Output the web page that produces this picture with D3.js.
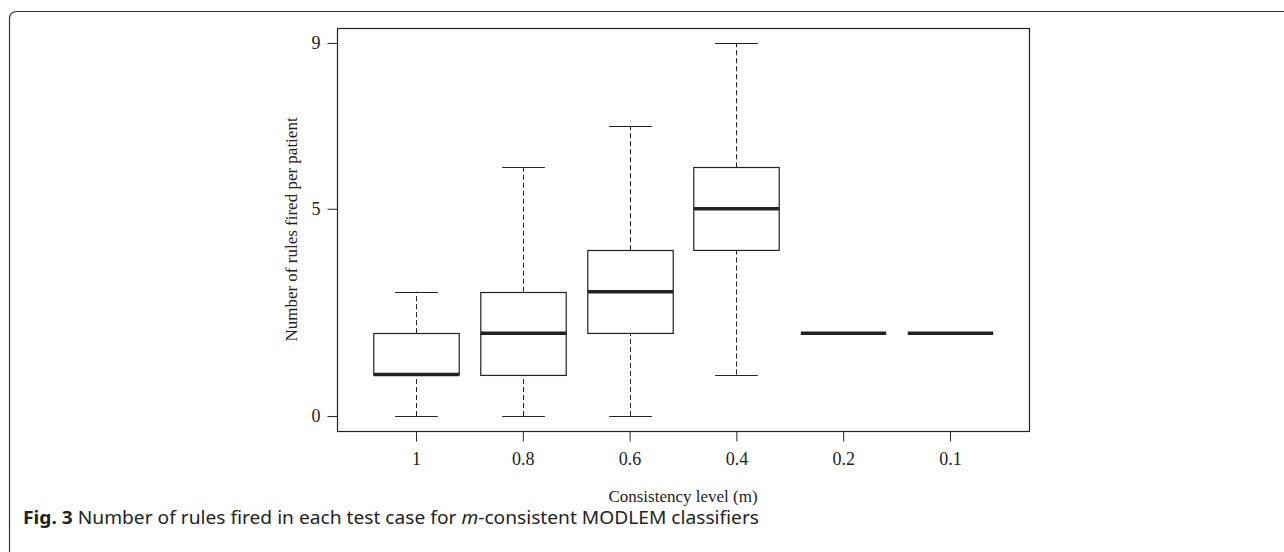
<!DOCTYPE html>
<html>
<head>
<meta charset="UTF-8">
<title>Rules fired per patient</title>
<script src="https://cdn.jsdelivr.net/npm/d3@7"></script>
<style>
  body { margin: 0; background: #fff; }
  svg text { fill: #222; }
</style>
</head>
<body>
<svg width="1284" height="552"></svg>
<script>
// data
var levels = ["1", "0.8", "0.6", "0.4", "0.2", "0.1"];
var mins    = [0, 0, 0, 1, 2, 2];
var q1s     = [1, 1, 2, 4, 2, 2];
var medians = [1, 2, 3, 5, 2, 2];
var q3s     = [2, 3, 4, 6, 2, 2];
var maxs    = [3, 6, 7, 9, 2, 2];
var yTicks  = [0, 5, 9];

var svg = d3.select("svg");
var ink = "#222";

// outer panel frame (top + left, rounded corner)
svg.append("path")
  .attr("d", "M9.5,552 L9.5,19 Q9.5,11.5 17,11.5 L1284,11.5")
  .attr("fill", "none")
  .attr("stroke", "#333")
  .attr("stroke-width", 1.2);

var plot = {left: 337, right: 1029, top: 28, bottom: 431};

// R-style axis: extend range by 4%
var x = d3.scaleLinear()
  .domain([0.26, levels.length + 0.74])
  .range([plot.left, plot.right]);
var y = d3.scaleLinear()
  .domain([-0.36, 9.36])
  .range([plot.bottom, plot.top]);

var boxW = x(1.4) - x(1);   // half box width
var capW = boxW / 2;

svg.append("rect")
  .attr("x", plot.left + 0.5).attr("y", plot.top + 0.5)
  .attr("width", plot.right - plot.left).attr("height", plot.bottom - plot.top)
  .attr("fill", "none").attr("stroke", ink).attr("stroke-width", 1.2);

// y axis
var yAxis = svg.append("g")
  .attr("transform", "translate(" + (plot.left + 0.5) + ",0)")
  .call(d3.axisLeft(y).tickValues(yTicks).tickSize(10).tickPadding(7));
// x axis
var xAxis = svg.append("g")
  .attr("transform", "translate(0," + (plot.bottom + 0.5) + ")")
  .call(d3.axisBottom(x).tickValues(d3.range(1, levels.length + 1))
    .tickFormat(function(d){ return levels[d - 1]; })
    .tickSize(10).tickPadding(11));
[yAxis, xAxis].forEach(function(a){
  a.select(".domain").remove();
  a.selectAll("line").attr("stroke", ink);
  a.selectAll("text")
    .attr("font-family", "Liberation Serif, serif")
    .attr("font-size", 18)
    .attr("fill", ink);
});

// boxes
var boxes = svg.append("g").selectAll("g")
  .data(levels)
  .enter().append("g");

boxes.each(function(d, i){
  var g = d3.select(this);
  var cx = Math.round(x(i + 1)) + 0.5;
  // whiskers
  [[mins[i], q1s[i]], [q3s[i], maxs[i]]].forEach(function(w){
    if (w[0] === w[1]) return;
    g.append("line")
      .attr("x1", cx).attr("x2", cx)
      .attr("y1", y(w[0])).attr("y2", y(w[1]))
      .attr("stroke", ink).attr("stroke-dasharray", "5,3");
  });
  // caps
  [mins[i], maxs[i]].forEach(function(v){
    if (mins[i] === maxs[i]) return;
    g.append("line")
      .attr("x1", cx - capW).attr("x2", cx + capW)
      .attr("y1", Math.round(y(v)) + 0.5).attr("y2", Math.round(y(v)) + 0.5)
      .attr("stroke", ink).attr("stroke-width", 1.2);
  });
  if (q3s[i] > q1s[i]) {
    g.append("rect")
      .attr("x", cx - boxW).attr("width", 2 * boxW)
      .attr("y", Math.round(y(q3s[i])) + 0.5)
      .attr("height", y(q1s[i]) - y(q3s[i]))
      .attr("fill", "#fff").attr("stroke", ink).attr("stroke-width", 1.2);
  }
  g.append("line")
    .attr("x1", cx - boxW).attr("x2", cx + boxW)
    .attr("y1", y(medians[i])).attr("y2", y(medians[i]))
    .attr("stroke", ink).attr("stroke-width", 3.5);
});

// axis titles
svg.append("text")
  .attr("x", (plot.left + plot.right) / 2).attr("y", 502)
  .attr("text-anchor", "middle")
  .attr("font-family", "Liberation Serif, serif").attr("font-size", 17)
  .text("Consistency level (m)");
svg.append("text")
  .attr("transform", "translate(297," + ((plot.top + plot.bottom) / 2) + ") rotate(-90)")
  .attr("text-anchor", "middle")
  .attr("font-family", "Liberation Serif, serif").attr("font-size", 17)
  .text("Number of rules fired per patient");

// caption
var cap = svg.append("text")
  .attr("x", 23).attr("y", 524)
  .attr("font-family", "Noto Sans, sans-serif").attr("font-size", 18.5)
  .attr("textLength", 736).attr("lengthAdjust", "spacingAndGlyphs");
cap.append("tspan").attr("font-weight", "bold").text("Fig. 3");
cap.append("tspan").text(" Number of rules fired in each test case for ");
cap.append("tspan").attr("font-style", "italic").text("m");
cap.append("tspan").text("-consistent MODLEM classifiers");
</script>
</body>
</html>
